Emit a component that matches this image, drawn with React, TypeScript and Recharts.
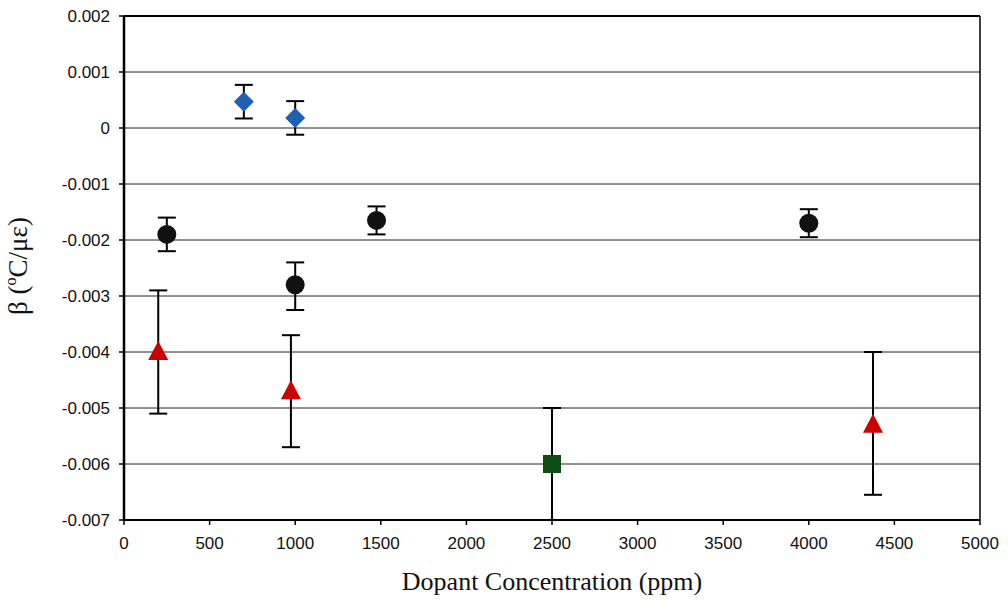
import React from 'react'
import {
  ScatterChart,
  Scatter,
  XAxis,
  YAxis,
  CartesianGrid,
  ErrorBar,
  ReferenceLine,
} from 'recharts'

// dopant concentration (ppm), beta, and [down, up] error
const diamondX = [700, 1000]
const diamondY = [0.00047, 0.00018]
const diamondErr = [[0.0003, 0.0003], [0.0003, 0.0003]]

const circleX = [250, 1000, 1475, 4000]
const circleY = [-0.0019, -0.0028, -0.00165, -0.0017]
const circleErr = [[0.0003, 0.0003], [0.00045, 0.0004], [0.00025, 0.00025], [0.00025, 0.00025]]

const triangleX = [200, 975, 4375]
const triangleY = [-0.004, -0.0047, -0.0053]
const triangleErr = [[0.0011, 0.0011], [0.001, 0.001], [0.00125, 0.0013]]

const squareX = [2500]
const squareY = [-0.006]
const squareErr = [[0.001, 0.001]]

const xTicks = [0, 500, 1000, 1500, 2000, 2500, 3000, 3500, 4000, 4500, 5000]
const yTicks = [0.002, 0.001, 0, -0.001, -0.002, -0.003, -0.004, -0.005, -0.006, -0.007]

const build = (xs: number[], ys: number[], errs: number[][]) =>
  xs.map((x, i) => ({ x, y: ys[i], err: errs[i] }))

const diamondData = build(diamondX, diamondY, diamondErr)
const circleData = build(circleX, circleY, circleErr)
const triangleData = build(triangleX, triangleY, triangleErr)
const squareData = build(squareX, squareY, squareErr)

const Diamond = (p: any) => (
  <path
    d={`M${p.cx},${p.cy - 10} L${p.cx + 10},${p.cy} L${p.cx},${p.cy + 10} L${p.cx - 10},${p.cy} Z`}
    fill="#1f5fb4"
  />
)
const Circle = (p: any) => <circle cx={p.cx} cy={p.cy} r={9.5} fill="#111" />
const Triangle = (p: any) => (
  <path
    d={`M${p.cx},${p.cy - 11} L${p.cx + 10},${p.cy + 8} L${p.cx - 10},${p.cy + 8} Z`}
    fill="#cc0000"
  />
)
const Square = (p: any) => (
  <rect x={p.cx - 9} y={p.cy - 9} width={18} height={18} fill="#0d4d14" />
)

const fmtY = (v: number) => (Math.abs(v) < 1e-9 ? '0' : v.toFixed(3))

const tickFont = { fill: '#111', fontSize: 17, fontFamily: 'Liberation Sans, Arial, sans-serif' }
const serif = 'Liberation Serif, Times New Roman, serif'

const YLabel = () => (
  <text
    transform="translate(27, 266) rotate(-90)"
    textAnchor="middle"
    fill="#111"
    fontSize={27}
    fontFamily={serif}
  >
    β (<tspan fontSize={16} dy={-11}>o</tspan>
    <tspan dy={11}>C/με)</tspan>
  </text>
)

export default function App() {
  return (
    <div style={{ position: 'absolute', left: 0, top: 0, width: 1008, height: 600, background: '#fff' }}>
      <ScatterChart width={1008} height={600} margin={{ top: 16, right: 28, bottom: 0, left: 0 }}>
        <CartesianGrid vertical={false} stroke="#222" strokeWidth={1} />
        <XAxis
          type="number"
          dataKey="x"
          domain={[0, 5000]}
          ticks={xTicks}
          allowDataOverflow
          axisLine={{ stroke: '#000', strokeWidth: 2 }}
          tickLine={{ stroke: '#000', strokeWidth: 1.5 }}
          tickSize={5}
          tickMargin={12}
          tick={tickFont}
          height={80}
          label={{
            value: 'Dopant Concentration (ppm)',
            position: 'insideBottom',
            offset: 10,
            fill: '#111',
            fontSize: 26,
            fontFamily: serif,
          }}
        />
        <YAxis
          type="number"
          dataKey="y"
          domain={[-0.007, 0.002]}
          ticks={yTicks}
          allowDataOverflow
          tickFormatter={fmtY}
          axisLine={{ stroke: '#000', strokeWidth: 2.5 }}
          tickLine={{ stroke: '#000', strokeWidth: 1.5 }}
          tickSize={5}
          tickMargin={9}
          tick={tickFont}
          width={124}
          label={<YLabel />}
        />
        <ReferenceLine y={0.002} stroke="#000" strokeWidth={2} />
        <ReferenceLine x={5000} stroke="#000" strokeWidth={1.5} />
        <Scatter data={diamondData} shape={Diamond} isAnimationActive={false}>
          <ErrorBar dataKey="err" direction="y" width={9} stroke="#000" strokeWidth={2} />
        </Scatter>
        <Scatter data={circleData} shape={Circle} isAnimationActive={false}>
          <ErrorBar dataKey="err" direction="y" width={9} stroke="#000" strokeWidth={2} />
        </Scatter>
        <Scatter data={triangleData} shape={Triangle} isAnimationActive={false}>
          <ErrorBar dataKey="err" direction="y" width={9} stroke="#000" strokeWidth={2} />
        </Scatter>
        <Scatter data={squareData} shape={Square} isAnimationActive={false}>
          <ErrorBar dataKey="err" direction="y" width={9} stroke="#000" strokeWidth={2} />
        </Scatter>
      </ScatterChart>
    </div>
  )
}
